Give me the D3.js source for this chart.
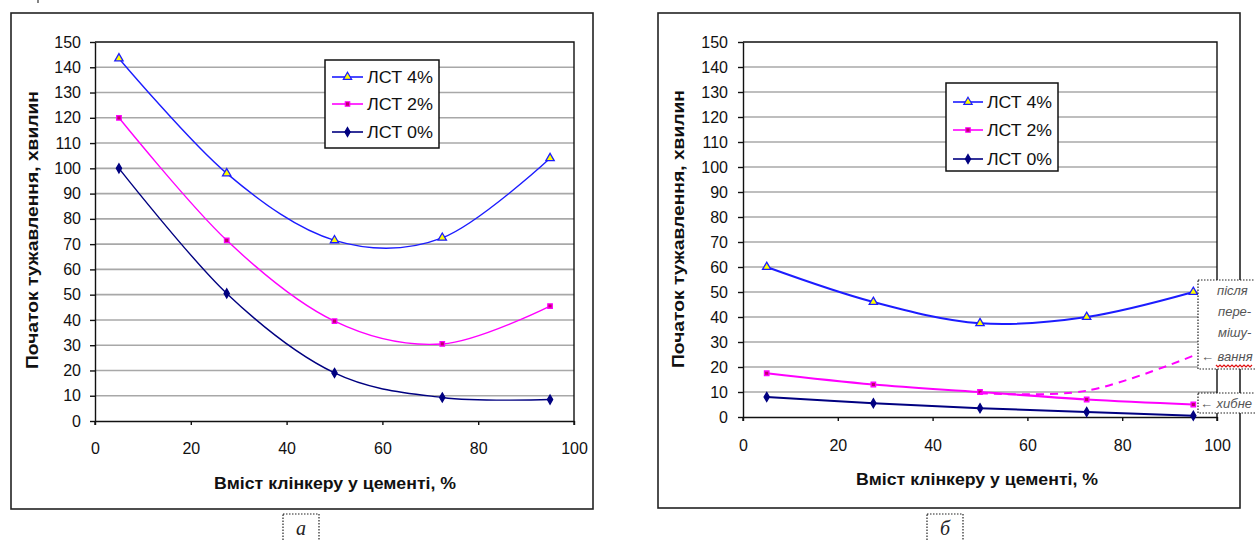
<!DOCTYPE html>
<html>
<head>
<meta charset="utf-8">
<script src="https://cdn.jsdelivr.net/npm/d3@7"></script>
<style>
  body { margin: 0; background: #fff; }
  svg { display: block; font-family: "Liberation Sans", Arial, sans-serif; }
</style>
</head>
<body>
<svg id="chart" width="1255" height="541"></svg>
<script>
// ---- data ----
const clinker = [5, 27.5, 50, 72.5, 95];
const seriesNames = ["ЛСТ 4%", "ЛСТ 2%", "ЛСТ 0%"];

// panel а
const a_lst4 = [143.5, 98, 71.5, 72.5, 104];
const a_lst2 = [120, 71.5, 39.5, 30.5, 45.5];
const a_lst0 = [100, 50.5, 19, 9.3, 8.5];

// panel б
const b_lst4 = [60, 46, 37.5, 40, 50];
const b_lst2 = [17.5, 13, 10, 7, 5];
const b_lst0 = [8, 5.5, 3.5, 2, 0.5];
// dashed branch "після перемішування"
const b_mixX = [50, 72.5, 95];
const b_mixY = [9.5, 10.5, 24.5];

const yTickValues = [0, 10, 20, 30, 40, 50, 60, 70, 80, 90, 100, 110, 120, 130, 140, 150];
const xTickValues = [0, 20, 40, 60, 80, 100];
const yTitle = "Початок тужавлення, хвилин";
const xTitle = "Вміст клінкеру у цементі, %";

// series look (Excel style)
const seriesStyle = [
    { color: "#1c1cff", symbol: d3.symbolTriangle, size: 30, fill: "#ffff00" },
    { color: "#ff00ff", symbol: d3.symbolSquare, size: 20, fill: "#c0006a" },
    { color: "#000080", symbol: d3.symbolDiamond, size: 24, fill: "#000080" }
];

const svg = d3.select("#chart");

/** One chart panel with frame, plot area, legend */
class Panel {
    constructor(layout, series) {
        this.L = layout;
        this.series = series;
        this.g = svg.append("g");

        this.x = d3.scaleLinear().domain([0, 100]).range([layout.px0, layout.px1]);
        this.y = d3.scaleLinear().domain([0, 150]).range([layout.py1, layout.py0]);

        this.drawFrame();
        this.drawGrid();
        this.drawAxes();
        this.drawSeries();
        this.drawLegend();
        this.drawLabel();
    }

    drawFrame() {
        let L = this.L;
        this.g.append("rect")
            .attr("x", L.fx0).attr("y", L.fy0)
            .attr("width", L.fx1 - L.fx0).attr("height", L.fy1 - L.fy0)
            .attr("fill", "#fff").attr("stroke", "#222").attr("stroke-width", 1.6);
    }

    drawGrid() {
        let L = this.L;
        this.g.append("g").selectAll("line")
            .data(yTickValues.filter(d => d > 0 && d < 150))
            .join("line")
            .attr("x1", L.px0).attr("x2", L.px1)
            .attr("y1", d => this.y(d)).attr("y2", d => this.y(d))
            .attr("stroke", "#a8a8a8").attr("stroke-width", 1.6);
        // plot area border top/right
        this.g.append("path")
            .attr("d", `M${L.px0},${L.py0}H${L.px1}V${L.py1 + 4}`)
            .attr("fill", "none").attr("stroke", "#111").attr("stroke-width", 1.4);
    }

    drawAxes() {
        let L = this.L;
        let yAxis = this.g.append("g")
            .attr("transform", `translate(${L.px0},0)`)
            .call(d3.axisLeft(this.y).tickValues(yTickValues).tickSize(5).tickPadding(L.yPad).tickSizeOuter(0));
        let xAxis = this.g.append("g")
            .attr("transform", `translate(0,${L.py1})`)
            .call(d3.axisBottom(this.x).tickValues(xTickValues).tickSize(4).tickPadding(L.xPad).tickSizeOuter(0));
        [yAxis, xAxis].forEach(ax => {
            ax.select(".domain").attr("stroke", "#111").attr("stroke-width", 1.4);
            ax.selectAll(".tick line").attr("stroke", "#111").attr("stroke-width", 1.4);
            ax.selectAll("text").attr("font-size", 16).attr("fill", "#111")
                .attr("font-family", "'Liberation Sans', Arial, sans-serif");
        });
        // y axis runs slightly below the x axis
        this.g.append("line")
            .attr("x1", L.px0).attr("x2", L.px0).attr("y1", L.py1).attr("y2", L.py1 + 4)
            .attr("stroke", "#111").attr("stroke-width", 1.4);

        this.g.append("text")
            .attr("transform", `translate(${L.ytX},${L.ytY}) rotate(-90)`)
            .attr("text-anchor", "middle").attr("dy", "0.35em")
            .attr("font-size", 16).attr("font-weight", "bold").attr("fill", "#111")
            .attr("textLength", 278).attr("lengthAdjust", "spacingAndGlyphs")
            .text(yTitle);
        this.g.append("text")
            .attr("x", L.xtX).attr("y", L.xtY)
            .attr("text-anchor", "middle").attr("dy", "0.35em")
            .attr("font-size", 16).attr("font-weight", "bold").attr("fill", "#111")
            .attr("textLength", 242).attr("lengthAdjust", "spacingAndGlyphs")
            .text(xTitle);
    }

    drawSeries() {
        let L = this.L;
        let line = d3.line()
            .x(d => this.x(d[0])).y(d => this.y(d[1]))
            .curve(d3.curveCatmullRom.alpha(0));

        this.series.forEach((vals, i) => {
            let st = seriesStyle[i];
            let pts = clinker.map((c, k) => [c, vals[k]]);
            this.g.append("path")
                .datum(pts)
                .attr("d", line)
                .attr("fill", "none").attr("stroke", st.color).attr("stroke-width", L.lw);
            this.g.append("g").selectAll("path")
                .data(pts).join("path")
                .attr("transform", d => `translate(${this.x(d[0])},${this.y(d[1])})`)
                .attr("d", d3.symbol().type(st.symbol).size(st.size))
                .attr("fill", st.fill).attr("stroke", st.color).attr("stroke-width", 1.3);
        });

        if (L.dashed) {
            let pts = b_mixX.map((c, k) => [c, b_mixY[k]]);
            this.g.append("path")
                .datum(pts)
                .attr("d", line)
                .attr("fill", "none").attr("stroke", "#ff00ff")
                .attr("stroke-width", 2).attr("stroke-dasharray", "8,6");
        }
    }

    drawLegend() {
        let B = this.L.legend;
        let lg = this.g.append("g");
        lg.append("rect")
            .attr("x", B.x).attr("y", B.y).attr("width", B.w).attr("height", B.h)
            .attr("fill", "#fff").attr("stroke", "#111").attr("stroke-width", 1.5);
        let rows = lg.selectAll("g.row")
            .data(seriesNames).join("g")
            .attr("class", "row")
            .attr("transform", (d, i) => `translate(0,${B.rows[i]})`);
        rows.append("line")
            .attr("x1", B.lx0).attr("x2", B.lx1)
            .attr("stroke", (d, i) => seriesStyle[i].color).attr("stroke-width", 1.6);
        rows.append("path")
            .attr("transform", `translate(${(B.lx0 + B.lx1) / 2},0)`)
            .attr("d", (d, i) => d3.symbol().type(seriesStyle[i].symbol).size(seriesStyle[i].size)())
            .attr("fill", (d, i) => seriesStyle[i].fill)
            .attr("stroke", (d, i) => seriesStyle[i].color).attr("stroke-width", 1.2);
        rows.append("text")
            .attr("x", B.tx).attr("dy", "0.36em")
            .attr("font-size", 16).attr("fill", "#111")
            .attr("textLength", B.tw).attr("lengthAdjust", "spacingAndGlyphs")
            .text(d => d);
    }

    drawLabel() {
        let L = this.L;
        this.g.append("rect")
            .attr("x", L.lbX).attr("y", 514).attr("width", 36).attr("height", 40)
            .attr("fill", "none").attr("stroke", "#222").attr("stroke-width", 1.2)
            .attr("stroke-dasharray", "1.5,1.5");
        this.g.append("text")
            .attr("x", L.lbX + 18).attr("y", 535)
            .attr("text-anchor", "middle")
            .attr("font-family", "'Liberation Serif', 'DejaVu Serif', serif")
            .attr("font-style", "italic").attr("font-size", 20).attr("fill", "#222")
            .text(L.label);
    }
}

new Panel({
    fx0: 11, fy0: 13, fx1: 593, fy1: 509,
    px0: 95, px1: 574, py0: 42, py1: 421,
    yPad: 9, xPad: 18, lw: 1.4,
    ytX: 32, ytY: 230, xtX: 335, xtY: 483,
    legend: { x: 325, y: 60, w: 114, h: 88, rows: [77, 104, 132], lx0: 332, lx1: 363, tx: 367, tw: 66 },
    lbX: 283, label: "а", dashed: false
}, [a_lst4, a_lst2, a_lst0]);

new Panel({
    fx0: 658, fy0: 13, fx1: 1240, fy1: 508,
    px0: 743, px1: 1217, py0: 42, py1: 417,
    yPad: 10, xPad: 19, lw: 2,
    ytX: 678, ytY: 229, xtX: 977, xtY: 479,
    legend: { x: 946, y: 83, w: 112, h: 88, rows: [102, 130, 159], lx0: 953, lx1: 983, tx: 987, tw: 65 },
    lbX: 927, label: "б", dashed: true
}, [b_lst4, b_lst2, b_lst0]);

// ---- side notes at the right edge ----
const notes = svg.append("g")
    .attr("font-family", "'Liberation Sans', Arial, sans-serif")
    .attr("font-style", "italic").attr("font-size", 13).attr("fill", "#555");
notes.append("rect")
    .attr("x", 1198).attr("y", 280).attr("width", 80).attr("height", 89)
    .attr("fill", "#fff").attr("stroke", "#222").attr("stroke-width", 1.2)
    .attr("stroke-dasharray", "1.5,1.5");
notes.append("rect")
    .attr("x", 1198).attr("y", 393).attr("width", 80).attr("height", 20)
    .attr("fill", "#fff").attr("stroke", "#222").attr("stroke-width", 1.2)
    .attr("stroke-dasharray", "1.5,1.5");
const noteLines = [
    { x: 1217, y: 295, t: "після" },
    { x: 1218, y: 316, t: "пере-" },
    { x: 1218, y: 337, t: "мішу-" },
    { x: 1201, y: 361, t: "← вання" },
    { x: 1200, y: 408, t: "← хибне" }
];
notes.selectAll("text.note").data(noteLines).join("text")
    .attr("class", "note")
    .attr("x", d => d.x).attr("y", d => d.y).text(d => d.t);
// spell-check squiggle under "вання"
let wave = d3.path();
wave.moveTo(1216, 365);
for (let xx = 1216; xx < 1252; xx += 4) {
    wave.lineTo(xx + 2, 367);
    wave.lineTo(xx + 4, 365);
}
notes.append("path").attr("d", wave.toString())
    .attr("fill", "none").attr("stroke", "#e01010").attr("stroke-width", 1.2);

// tiny remainder of text above the picture
svg.append("line").attr("x1", 38).attr("x2", 38).attr("y1", 0).attr("y2", 3)
    .attr("stroke", "#333").attr("stroke-width", 1.2);
</script>
</body>
</html>
